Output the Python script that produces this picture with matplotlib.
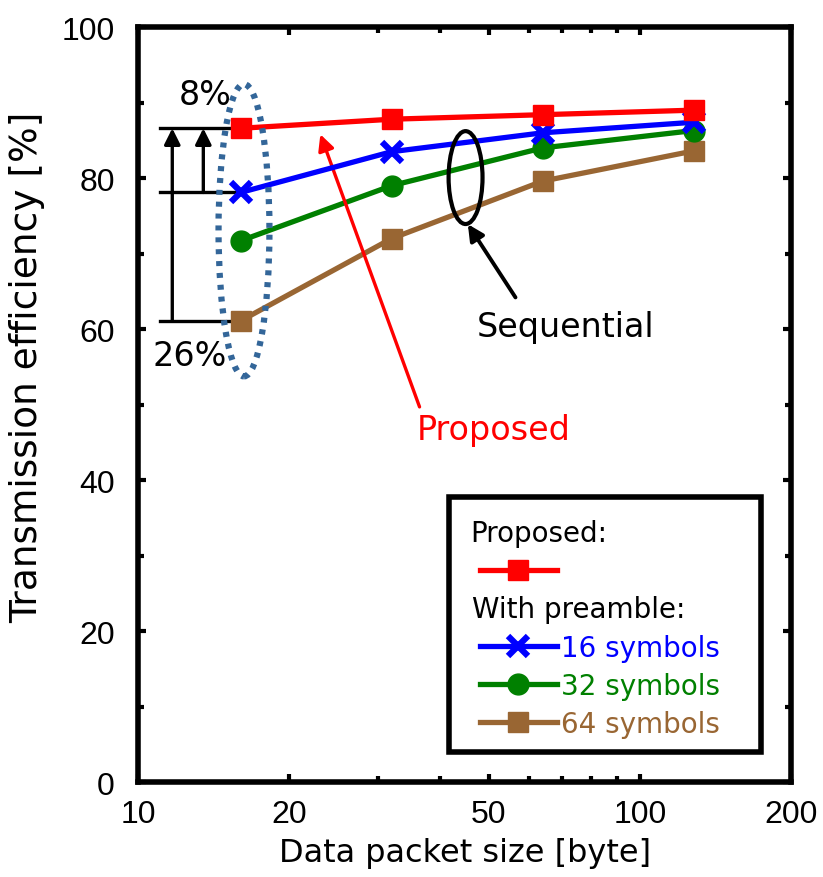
import matplotlib
matplotlib.use('Agg')
import matplotlib.pyplot as plt
from matplotlib import font_manager
from matplotlib.patches import Ellipse, Rectangle
from matplotlib.lines import Line2D
from matplotlib.ticker import NullFormatter, MultipleLocator

# Data
packet_size = [16, 32, 64, 128]
proposed = [86.6, 87.8, 88.4, 89.0]
pre16 = [78.1, 83.5, 86.0, 87.4]
pre32 = [71.7, 79.0, 84.0, 86.3]
pre64 = [61.1, 72.0, 79.6, 83.6]

x_ticks = [10, 20, 50, 100, 200]
y_ticks = [0, 20, 40, 60, 80, 100]

c_red = '#ff0000'
c_blue = '#0000ff'
c_green = '#008000'
c_brown = '#996633'

plt.rcParams['font.family'] = ['DejaVu Sans']

# tick labels in the reference are a narrow face
try:
    font_manager.findfont('Liberation Sans Narrow', fallback_to_default=False)
    tick_family, tick_size = 'Liberation Sans Narrow', 26
except ValueError:
    tick_family, tick_size = 'Liberation Sans', 23

fig = plt.figure(figsize=(8.23, 8.78), dpi=100)
ax = fig.add_axes([0.168, 0.108, 0.793, 0.860])

lw = 3.8
ax.plot(packet_size, pre64, color=c_brown, lw=lw, marker='s', ms=14, zorder=3)
ax.plot(packet_size, pre32, color=c_green, lw=lw, marker='o', ms=15, zorder=3)
ax.plot(packet_size, pre16, color=c_blue, lw=lw, marker='x', ms=14, mew=4.5, zorder=4)
ax.plot(packet_size, proposed, color=c_red, lw=lw, marker='s', ms=15, zorder=5)

ax.set_xscale('log')
ax.set_xlim(10, 200)
ax.set_ylim(0, 100)
ax.set_xticks(x_ticks)
ax.set_xticklabels([str(t) for t in x_ticks])
ax.set_yticks(y_ticks)
ax.yaxis.set_minor_locator(MultipleLocator(10))
ax.xaxis.set_minor_formatter(NullFormatter())
ax.tick_params(axis='both', which='both', direction='in', top=True, right=True,
               width=3, labelsize=tick_size)
ax.tick_params(axis='both', which='major', length=6)
ax.tick_params(axis='both', which='minor', length=4)
ax.tick_params(axis='y', pad=17)
ax.tick_params(axis='x', pad=12)
for lab in ax.get_xticklabels() + ax.get_yticklabels():
    lab.set_family(tick_family)
for s in ax.spines.values():
    s.set_linewidth(4)

ax.set_xlabel('Data packet size [byte]', fontsize=23, labelpad=6)
ax.set_ylabel('Transmission efficiency [%]', fontsize=27)
ax.yaxis.set_label_coords(-0.142, 0.551)

# Gap annotations at 16 byte
for yv in [proposed[0], pre16[0], pre64[0]]:
    ax.plot([11.06, packet_size[0]], [yv, yv], color='black', lw=2.4, zorder=2)
ax.annotate('', xy=(11.69, proposed[0]), xytext=(11.69, pre64[0]),
            arrowprops=dict(arrowstyle='-|>', color='black', lw=2.4,
                            mutation_scale=24, shrinkA=0, shrinkB=0))
ax.annotate('', xy=(13.48, proposed[0]), xytext=(13.48, pre16[0]),
            arrowprops=dict(arrowstyle='-|>', color='black', lw=2.4,
                            mutation_scale=24, shrinkA=0, shrinkB=0))
ax.text(13.6, 91.1, '8%', fontsize=24, ha='center', va='center')
ax.text(12.69, 56.5, '26%', fontsize=24, ha='center', va='center')

# dotted ellipse around 16-byte points
ax.add_patch(Ellipse((0.162, 0.731), 0.078, 0.387, transform=ax.transAxes, fill=False,
                     ec='#336699', lw=4.5, ls=(0, (0.8, 1.1)), zorder=6))

# Sequential ellipse and label
ax.add_patch(Ellipse((0.5015, 0.8007), 0.052, 0.123, transform=ax.transAxes, fill=False,
                     ec='black', lw=3, zorder=6))
ax.annotate('', xy=(0.505, 0.739), xycoords='axes fraction',
            xytext=(0.578, 0.642), textcoords='axes fraction',
            arrowprops=dict(arrowstyle='-|>', color='black', lw=2.8,
                            mutation_scale=24, shrinkA=0, shrinkB=0))
ax.text(0.654, 0.591, 'Sequential', transform=ax.transAxes, fontsize=24,
        ha='center', va='baseline')

# Proposed arrow and label
ax.annotate('', xy=(0.279, 0.858), xycoords='axes fraction',
            xytext=(0.431, 0.497), textcoords='axes fraction',
            arrowprops=dict(arrowstyle='-|>', color=c_red, lw=2.4,
                            mutation_scale=24, shrinkA=0, shrinkB=0))
ax.text(0.544, 0.454, 'Proposed', transform=ax.transAxes, fontsize=24,
        ha='center', va='baseline', color=c_red)

# Legend: frame and headers drawn separately, entries through ax.legend
ax.add_patch(Rectangle((0.476, 0.040), 0.478, 0.338, transform=ax.transAxes,
                       fill=True, fc='white', ec='black', lw=4, zorder=7))
blank = Line2D([], [], color='none')
handles = [blank,
           Line2D([], [], color=c_red, lw=lw, marker='s', ms=15),
           blank,
           Line2D([], [], color=c_blue, lw=lw, marker='x', ms=14, mew=4.5),
           Line2D([], [], color=c_green, lw=lw, marker='o', ms=15),
           Line2D([], [], color=c_brown, lw=lw, marker='s', ms=14)]
labels = [' ', ' ', ' ', '16 symbols', '32 symbols', '64 symbols']
leg = ax.legend(handles, labels, loc='center left', bbox_to_anchor=(0.524, 0.203),
                fontsize=20, frameon=False, handlelength=2.75, handletextpad=0.15,
                labelspacing=0.36, borderpad=0, borderaxespad=0)
leg.set_zorder(8)
for txt, col in zip(leg.get_texts(), ['black', 'black', 'black', c_blue, c_green, c_brown]):
    txt.set_color(col)
ax.text(0.508, 0.319, 'Proposed:', transform=ax.transAxes, fontsize=20,
        va='baseline', zorder=9)
ax.text(0.511, 0.2185, 'With preamble:', transform=ax.transAxes, fontsize=20,
        va='baseline', zorder=9)

fig.savefig('out.png', dpi=100)
